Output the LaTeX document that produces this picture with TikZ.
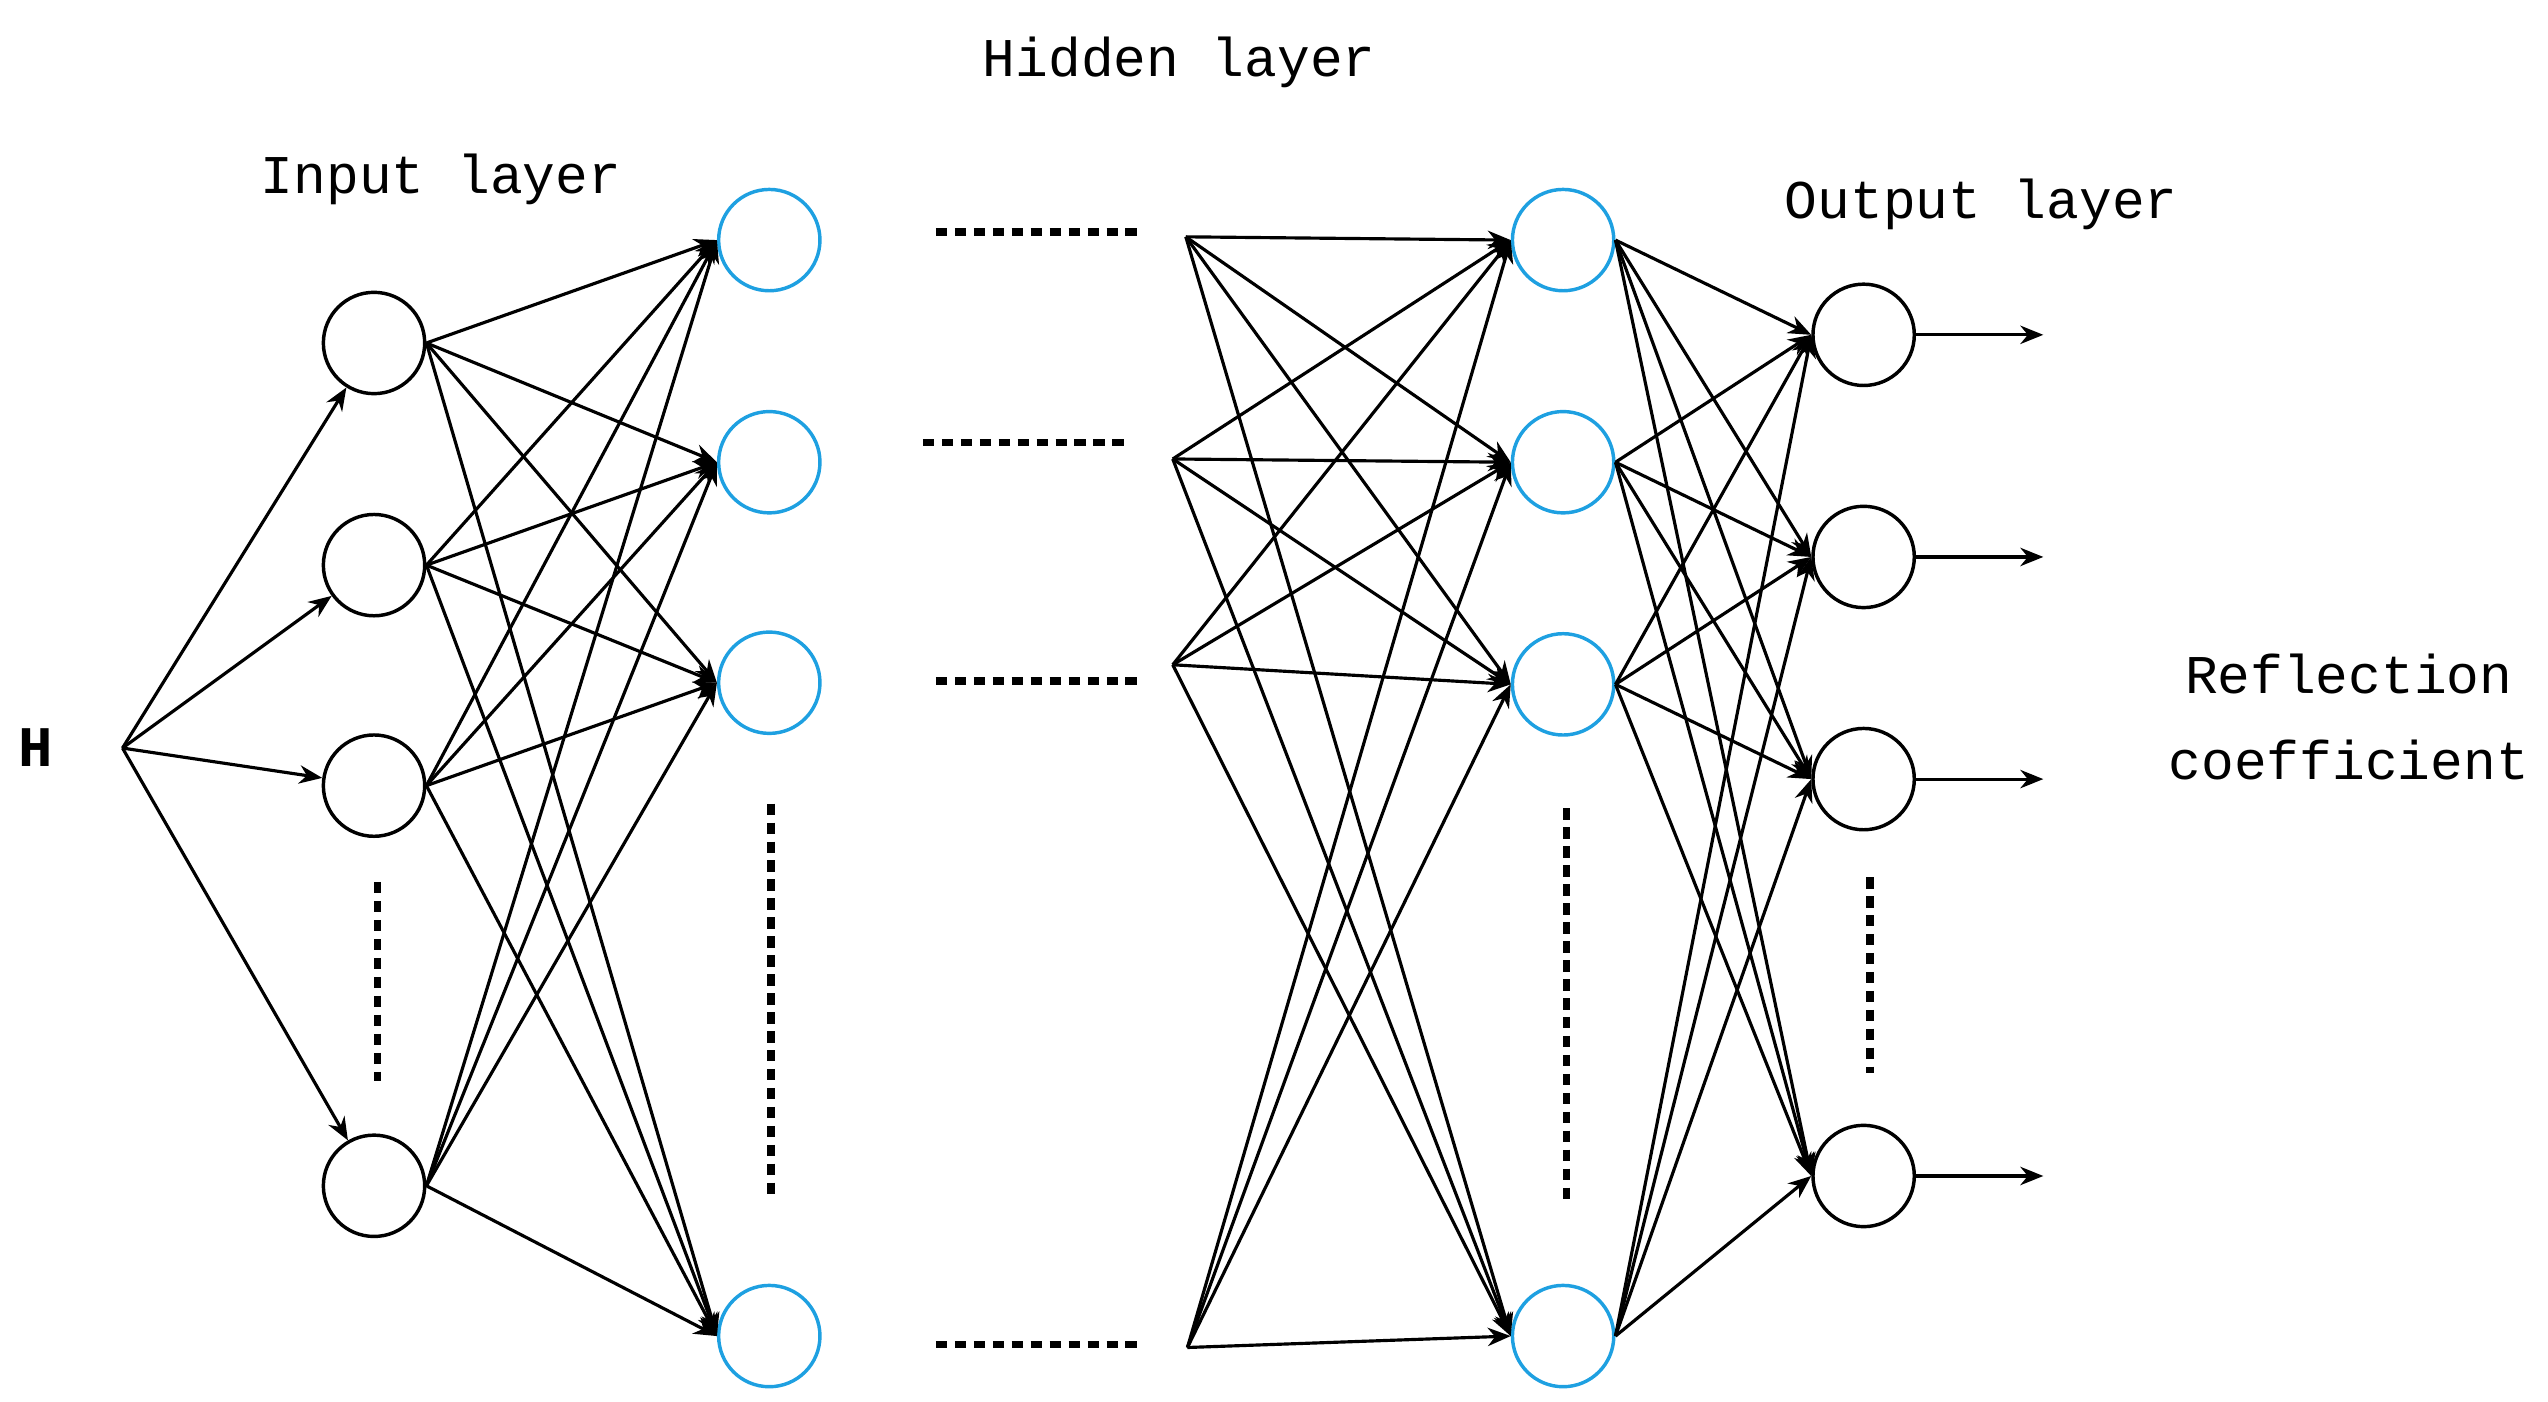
\documentclass[tikz,border=0pt]{standalone}
\usepackage{fontspec}
\setmainfont{Liberation Mono}
\usetikzlibrary{arrows.meta}
\begin{document}
\begin{tikzpicture}[x=0.01cm,y=-0.01cm,
  blk/.style={circle,draw=black,line width=0.6pt,minimum size=0.62cm,inner sep=0pt},
  blu/.style={circle,draw={rgb,255:red,30;green,160;blue,225},line width=0.6pt,minimum size=0.62cm,inner sep=0pt},
  ar/.style={-{Stealth[length=4pt,width=3.2pt]},line width=0.55pt},
  dots/.style={line width=1.3pt,dash pattern=on 2pt off 1.3pt},
  lbl/.style={font=\fontsize{9.5}{11}\selectfont}]
\useasboundingbox (0,0) rectangle (1560,858);
\node[font=\bfseries\fontsize{10}{12}\selectfont] (H) at (22,458) {H};
\coordinate (h) at (75,458);
\foreach \n/\y in {1/210,2/346,3/481,4/726} \node[blk] (i\n) at (229,\y) {};
\foreach \n/\y in {1/147,2/283,3/418,4/818} \node[blu] (a\n) at (471,\y) {};
\foreach \n/\y in {1/147,2/283,3/419,4/818} \node[blu] (b\n) at (957,\y) {};
\foreach \n/\y in {1/205,2/341,3/477,4/720} \node[blk] (o\n) at (1141,\y) {};
\coordinate (f1) at (726,145); \coordinate (f2) at (718,281);
\coordinate (f3) at (718,407); \coordinate (f4) at (727,825);
\foreach \n/\y in {1/205,2/341,3/477,4/720} \coordinate (e\n) at (1251,\y);
\foreach \n in {1,...,4} \draw[ar] (h) -- (i\n);
\foreach \m in {1,...,4} \foreach \n in {1,...,4} \draw[ar] (i\m.east) -- (a\n.west);
\foreach \m in {1,...,4} \foreach \n in {1,...,4} \draw[ar] (f\m) -- (b\n.west);
\foreach \m in {1,...,4} \foreach \n in {1,...,4} \draw[ar] (b\m.east) -- (o\n.west);
\foreach \n in {1,...,4} \draw[ar] (o\n) -- (e\n);
\coordinate (d1a) at (573,142); \coordinate (d1b) at (700,142);
\coordinate (d2a) at (565,271); \coordinate (d2b) at (690,271);
\coordinate (d3a) at (573,417); \coordinate (d3b) at (700,417);
\coordinate (d4a) at (573,823); \coordinate (d4b) at (700,823);
\foreach \n in {1,...,4} \draw[dots] (d\n a) -- (d\n b);
\coordinate (v1a) at (231,540); \coordinate (v1b) at (231,662);
\coordinate (v2a) at (472,492); \coordinate (v2b) at (472,735);
\coordinate (v3a) at (959,495); \coordinate (v3b) at (959,735);
\coordinate (v4a) at (1145,537); \coordinate (v4b) at (1145,657);
\foreach \n in {1,...,4} \draw[dots] (v\n a) -- (v\n b);
\node[lbl] (t1) at (722,38) {Hidden  layer};
\node[lbl] (t2) at (270,110) {Input  layer};
\node[lbl] (t3) at (1213,125) {Output  layer};
\node[lbl,align=center] (t4) at (1438,439) {Reflection\\[4pt]coefficient};
\end{tikzpicture}
\end{document}
